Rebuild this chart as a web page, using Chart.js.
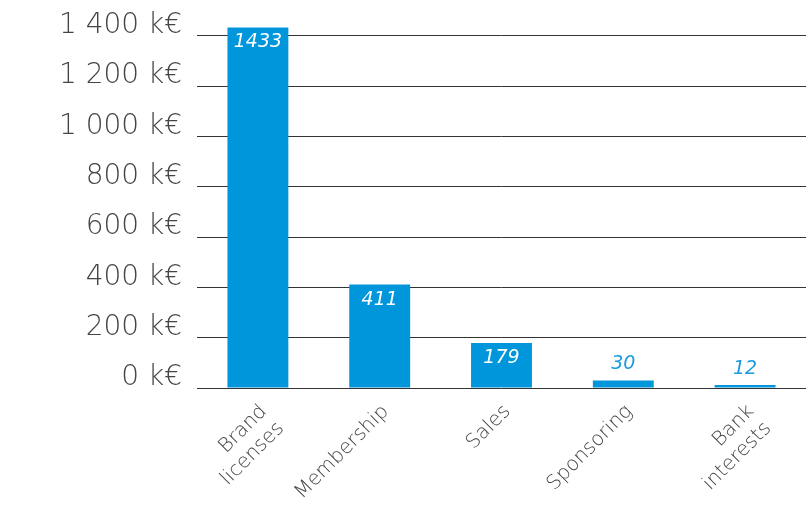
<!DOCTYPE html>
<html>
<head>
<meta charset="utf-8">
<script src="https://cdn.jsdelivr.net/npm/chart.js@4.4.1/dist/chart.umd.min.js"></script>
<style>
    html, body { margin: 0; padding: 0; background: #fff; }
    canvas { display: block; }
</style>
</head>
<body>
<canvas id="revenueChart" width="806" height="508"></canvas>
<script>
    // Revenue sources (k€)
    const categories = [['Brand', 'licenses'], 'Membership', 'Sales', 'Sponsoring', ['Bank', 'interests']];
    const revenues = [1433, 411, 179, 30, 12];
    const yTickValues = [0, 200, 400, 600, 800, 1000, 1200, 1400];

    const FONT = '"DejaVu Sans", sans-serif';
    const BAR_BLUE = '#0096db';

    function formatKEuro(v) {
        // 1400 -> "1 400 k€"
        return String(v).replace(/\B(?=(\d{3})+(?!\d))/g, ' ') + ' k€';
    }

    // Draw the value on top of every bar (inside when there is room, above otherwise)
    const valueLabels = {
        id: 'valueLabels',
        afterDatasetsDraw: function (chart) {
            const ctx = chart.ctx;
            const meta = chart.getDatasetMeta(0);
            ctx.save();
            ctx.font = 'italic 200 19px ' + FONT;
            ctx.textAlign = 'center';
            ctx.textBaseline = 'middle';
            meta.data.forEach(function (bar, i) {
                const h = bar.base - bar.y;
                if (h > 40) {
                    ctx.fillStyle = '#ffffff';
                    ctx.fillText(revenues[i], bar.x, bar.y + 15);
                } else {
                    ctx.fillStyle = '#1a9be0';
                    ctx.fillText(revenues[i], bar.x, bar.y - 16);
                }
            });
            ctx.restore();
        }
    };

    const ctx = document.getElementById('revenueChart').getContext('2d');
    new Chart(ctx, {
        type: 'bar',
        data: {
            labels: categories,
            datasets: [{
                data: revenues,
                backgroundColor: BAR_BLUE,
                barPercentage: 0.5,
                categoryPercentage: 1.0,
                clip: false
            }]
        },
        options: {
            responsive: false,
            animation: false,
            devicePixelRatio: 1,
            layout: { padding: 0 },
            plugins: {
                legend: { display: false },
                tooltip: { enabled: false }
            },
            scales: {
                x: {
                    grid: { display: false },
                    border: { display: false },
                    ticks: {
                        color: '#444444',
                        font: { family: FONT, size: 20, weight: 200 },
                        minRotation: 45,
                        maxRotation: 45,
                        padding: 4,
                        labelOffset: 6
                    },
                    afterFit: function (scale) { scale.height = 120; }
                },
                y: {
                    min: 0,
                    max: 1416,
                    grid: { color: '#333333', lineWidth: 1, drawTicks: false },
                    border: { display: false },
                    ticks: {
                        stepSize: 200,
                        padding: 15,
                        labelOffset: -10,
                        color: '#444444',
                        font: { family: FONT, size: 28, weight: 200 },
                        callback: function (v) { return formatKEuro(v); }
                    },
                    afterBuildTicks: function (scale) {
                        scale.ticks = yTickValues.map(function (v) { return { value: v }; });
                    },
                    afterFit: function (scale) { scale.width = 197; }
                }
            }
        },
        plugins: [valueLabels]
    });
</script>
</body>
</html>
